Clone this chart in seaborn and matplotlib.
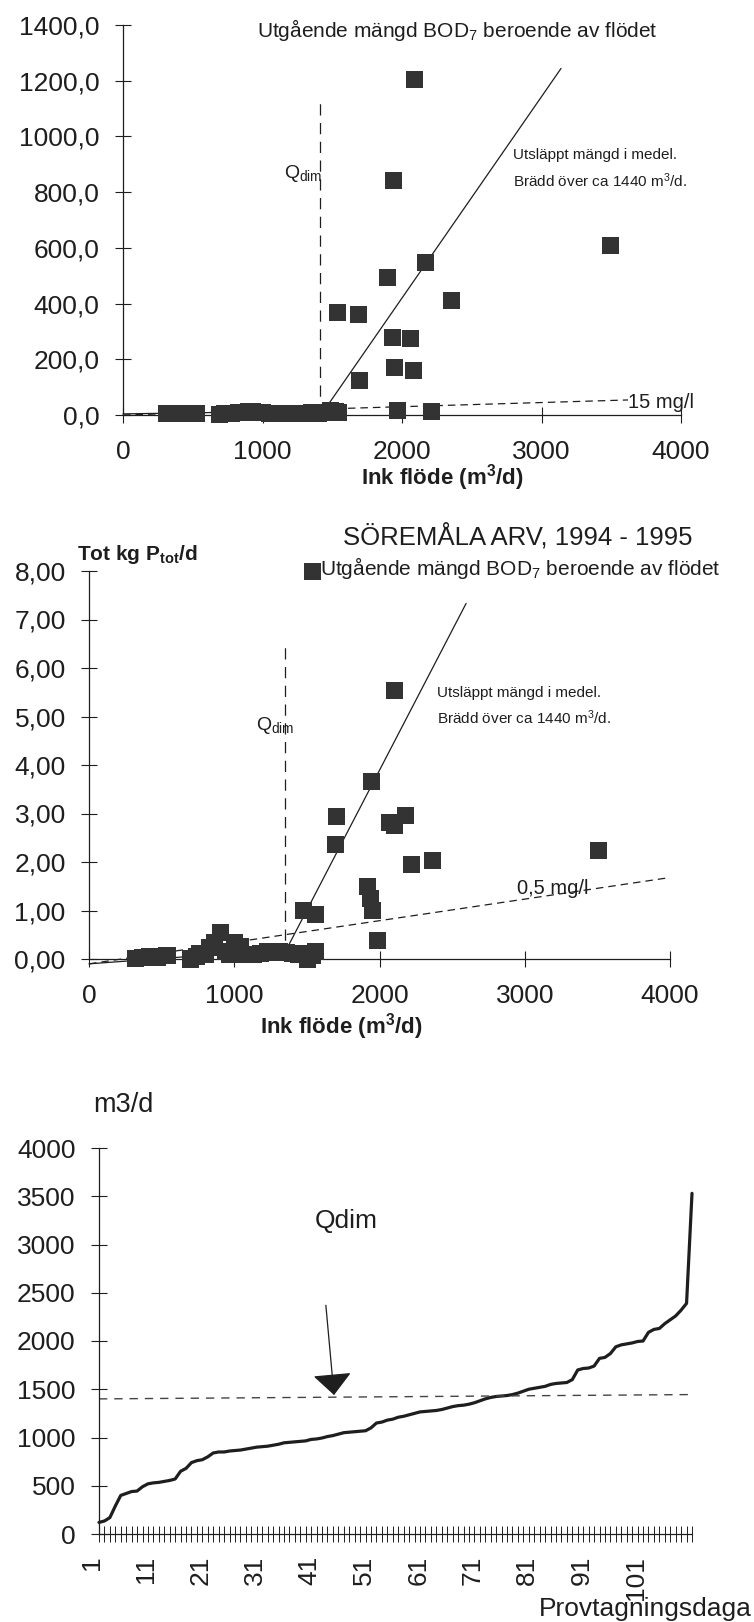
import matplotlib
matplotlib.use("Agg")
import matplotlib.pyplot as plt
from matplotlib.transforms import ScaledTranslation
import seaborn as sns

sns.set_style("white")
plt.rcParams['font.family'] = ['Liberation Sans', 'DejaVu Sans']
plt.rcParams['mathtext.fontset'] = 'custom'
plt.rcParams['mathtext.rm'] = 'Liberation Sans'
plt.rcParams['mathtext.it'] = 'Liberation Sans'
plt.rcParams['mathtext.bf'] = 'Liberation Sans:bold'

# --- data: BOD7 load vs inflow (top chart) ---
bod_flow = [312, 350, 400, 450, 500, 530, 690, 730, 780, 830, 870, 900, 930, 960,
            1000, 1050, 1100, 1150, 1200, 1250, 1300, 1350, 1400, 1450, 1490, 1520,
            1545, 1536, 1690, 1697, 1897, 1931, 1938, 1948, 1965, 2058, 2082, 2093,
            2168, 2213, 2357, 3494]
bod_load = [5, 4, 6, 5, 4, 6, 3, 5, 6, 8, 10, 14, 12, 10,
            8, 6, 7, 5, 6, 7, 6, 8, 7, 10, 15, 12,
            8, 367, 361, 124, 493, 279, 841, 172, 16, 273, 159, 1205,
            547, 12, 412, 609]
bod_mean_flow = [0, 1440, 3140]
bod_mean_load = [4, 15, 1244]
bod_limit_flow = [0, 3620]
bod_limit_load = [0, 54]
bod_qdim = 1412
bod_qdim_top = 1119
bod_yticks = [0, 200, 400, 600, 800, 1000, 1200, 1400]

# --- data: Ptot load vs inflow (middle chart) ---
p_flow = [317, 370, 420, 470, 537, 700, 740, 764, 800, 833, 867, 902, 940, 970,
          1005, 1040, 1080, 1130, 1180, 1230, 1267, 1310, 1359, 1400, 1440, 1473,
          1501, 1542, 1560, 1540, 2102, 1947, 1705, 1695, 2179, 2069, 2102, 2218,
          2367, 3510, 1914, 1937, 1953, 1987, 1480, 1556]
p_load = [0.02, 0.03, 0.05, 0.04, 0.08, 0.00, 0.05, 0.12, 0.10, 0.23, 0.35, 0.54, 0.15, 0.10,
          0.33, 0.25, 0.10, 0.10, 0.12, 0.15, 0.14, 0.16, 0.14, 0.12, 0.10, 0.12,
          0.00, 0.08, 0.15, 7.98, 5.53, 3.66, 2.93, 2.37, 2.95, 2.82, 2.75, 1.94,
          2.03, 2.23, 1.50, 1.25, 1.00, 0.39, 1.00, 0.92]
p_mean_flow = [0, 1360, 2596]
p_mean_load = [-0.1, 0.2, 7.33]
p_limit_flow = [0, 4000]
p_limit_load = [-0.1, 1.68]
p_qdim = 1349
p_qdim_top = 6.47
p_yticks = [0, 1, 2, 3, 4, 5, 6, 7, 8]

flow_xticks = [0, 1000, 2000, 3000, 4000]

# --- data: sorted daily inflow (bottom chart) ---
days = list(range(1, 111))
flow_sorted = [120, 135, 170, 290, 400, 420, 440, 445, 490, 520,
               530, 535, 545, 555, 570, 650, 680, 740, 760, 770,
               800, 840, 850, 850, 860, 865, 870, 880, 890, 900,
               905, 910, 920, 930, 945, 950, 955, 960, 965, 980,
               985, 995, 1010, 1020, 1035, 1050, 1055, 1060, 1065, 1070,
               1100, 1150, 1160, 1180, 1190, 1210, 1220, 1235, 1250, 1265,
               1270, 1275, 1280, 1290, 1305, 1320, 1330, 1335, 1345, 1360,
               1380, 1400, 1415, 1425, 1430, 1435, 1445, 1460, 1480, 1500,
               1510, 1520, 1530, 1550, 1560, 1565, 1570, 1600, 1700, 1715,
               1720, 1740, 1820, 1830, 1870, 1940, 1960, 1970, 1980, 1995,
               2000, 2090, 2120, 2130, 2180, 2220, 2260, 2320, 2390, 3530]
qdim_days = [1, 110]
qdim_level = [1400, 1445]
flow_yticks = [0, 500, 1000, 1500, 2000, 2500, 3000, 3500, 4000]

INK = '#1e1e1e'
SQ = '#333333'
W, H = 754, 1622


def box(left, top, right, bottom):
    return [left / W, 1 - bottom / H, (right - left) / W, (bottom - top) / H]


def fx(x):
    return x / W


def fy(y):
    return 1 - y / H


def style_axis(ax):
    for s in ['top', 'right']:
        ax.spines[s].set_visible(False)
    for s in ['left', 'bottom']:
        ax.spines[s].set_color(INK)
        ax.spines[s].set_linewidth(0.9)
    ax.tick_params(bottom=True, left=True, direction='inout', length=11.5,
                   width=0.8, colors=INK, labelsize=19, pad=11)
    ax.tick_params(axis='x', pad=12)
    ax.grid(False)


fig = plt.figure(figsize=(7.54, 16.22), dpi=100)
fig.patch.set_facecolor('white')

# ---------- chart 1 ----------
ax1 = fig.add_axes(box(123, 25, 681, 415))
sns.scatterplot(x=bod_flow, y=bod_load, marker='s', s=150, color=SQ,
                edgecolor='none', clip_on=False, zorder=3, ax=ax1)
ax1.plot(bod_mean_flow, bod_mean_load, color=INK, lw=0.9, clip_on=False)
ax1.plot(bod_limit_flow, bod_limit_load, color=INK, lw=0.9, dashes=(6, 4), clip_on=False)
ax1.plot([bod_qdim, bod_qdim], [0, bod_qdim_top], color=INK, lw=0.9, dashes=(9, 6))
ax1.set_xlim(0, 4000)
ax1.set_ylim(0, 1400)
ax1.set_xticks(flow_xticks)
ax1.set_xticklabels([str(v) for v in flow_xticks])
ax1.set_yticks(bod_yticks)
ax1.set_yticklabels([f"{v:.1f}".replace('.', ',') for v in bod_yticks])
ax1.set_xlabel('')
ax1.set_ylabel('')
style_axis(ax1)

fig.text(fx(457), fy(30), "Utgående mängd BOD$_7$ beroende av flödet",
         ha='center', va='center', fontsize=15, color=INK)
fig.text(fx(284), fy(173), "Q$_{\\mathrm{dim}}$", ha='left', va='center',
         fontsize=14, color=INK)
fig.text(fx(513), fy(155), "Utsläppt mängd i medel.", ha='left', va='center',
         fontsize=11, color=INK)
fig.text(fx(513), fy(181), "Brädd över ca 1440 m$^3$/d.", ha='left', va='center',
         fontsize=11, color=INK)
fig.text(fx(628), fy(402), "15 mg/l", ha='left', va='center', fontsize=14.5, color=INK)
fig.text(fx(442), fy(478), "Ink flöde (m$^{\\mathbf{3}}$/d)", ha='center', va='center',
         fontsize=16, fontweight='bold', color=INK)

# ---------- chart 2 ----------
ax2 = fig.add_axes(box(89, 571, 670, 959))
sns.scatterplot(x=p_flow, y=p_load, marker='s', s=150, color=SQ,
                edgecolor='none', clip_on=False, zorder=3, ax=ax2)
ax2.plot(p_mean_flow, p_mean_load, color=INK, lw=0.9, clip_on=False)
ax2.plot(p_limit_flow, p_limit_load, color=INK, lw=0.9, dashes=(6, 4), clip_on=False)
ax2.plot([p_qdim, p_qdim], [0, p_qdim_top], color=INK, lw=0.9, dashes=(9, 6))
ax2.set_xlim(0, 4000)
ax2.set_ylim(0, 8)
ax2.set_xticks(flow_xticks)
ax2.set_xticklabels([str(v) for v in flow_xticks])
ax2.set_yticks(p_yticks)
ax2.set_yticklabels([f"{v:.2f}".replace('.', ',') for v in p_yticks])
ax2.set_xlabel('')
ax2.set_ylabel('')
style_axis(ax2)

fig.text(fx(518), fy(536), "SÖREMÅLA ARV, 1994 - 1995", ha='center', va='center',
         fontsize=18.5, color=INK)
fig.text(fx(320), fy(568), "Utgående mängd BOD$_7$ beroende av flödet",
         ha='left', va='center', fontsize=15, color=INK)
fig.text(fx(77), fy(554), "Tot kg P$_{\\mathbf{tot}}$/d", ha='left', va='center',
         fontsize=15, fontweight='bold', color=INK)
fig.text(fx(256), fy(725), "Q$_{\\mathrm{dim}}$", ha='left', va='center',
         fontsize=14, color=INK)
fig.text(fx(437), fy(693), "Utsläppt mängd i medel.", ha='left', va='center',
         fontsize=11, color=INK)
fig.text(fx(437), fy(718), "Brädd över ca 1440 m$^3$/d.", ha='left', va='center',
         fontsize=11, color=INK)
fig.text(fx(517), fy(889), "0,5 mg/l", ha='left', va='center', fontsize=14.5, color=INK)
fig.text(fx(341), fy(1027), "Ink flöde (m$^{\\mathbf{3}}$/d)", ha='center', va='center',
         fontsize=16, fontweight='bold', color=INK)

# ---------- chart 3 ----------
ax3 = fig.add_axes(box(99, 1148, 692, 1534))
sns.lineplot(x=days, y=flow_sorted, color=INK, lw=2.3, clip_on=False, ax=ax3)
ax3.plot(qdim_days, qdim_level, color='#444444', lw=1.0, dashes=(6, 5))
ax3.annotate('', xy=(44.2, 1440), xytext=(42.7, 2370),
             arrowprops=dict(arrowstyle='-|>,head_length=0.68,head_width=0.62',
                             mutation_scale=20, color=INK, lw=0.9,
                             shrinkA=0, shrinkB=0))
ax3.set_xlim(1, 110)
ax3.set_ylim(0, 4000)
ax3.set_xticks(days)
ax3.set_xticklabels([str(d) if (d - 1) % 10 == 0 else '' for d in days], rotation=90)
ax3.set_yticks(flow_yticks)
ax3.set_yticklabels([str(v) for v in flow_yticks])
ax3.set_xlabel('')
ax3.set_ylabel('')
style_axis(ax3)
ax3.tick_params(axis='x', pad=10, width=0.7)
shift = ScaledTranslation(-7 / 100, 0, fig.dpi_scale_trans)
for lab in ax3.get_xticklabels():
    lab.set_transform(lab.get_transform() + shift)

fig.text(fx(93), fy(1105), "m3/d", ha='left', va='center', fontsize=19.5, color=INK)
fig.text(fx(315), fy(1221), "Qdim", ha='left', va='center', fontsize=19, color=INK)
fig.text(fx(752), fy(1609), "Provtagningsdaga", ha='right', va='center',
         fontsize=19, color=INK)

fig.savefig('out.png', dpi=100, facecolor='white')
plt.close(fig)
